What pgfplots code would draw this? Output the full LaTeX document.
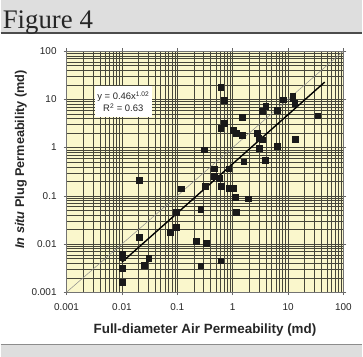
\documentclass[border=0pt]{standalone}
\usepackage{pgfplots}
\pgfplotsset{compat=1.18}
\usepackage{fontspec}
\setmainfont{Liberation Sans}
\newfontfamily\seriffont{Liberation Serif}
\definecolor{bgyellow}{RGB}{250,247,204}
\definecolor{gridc}{RGB}{70,70,58}
\definecolor{bandgray}{RGB}{222,222,222}
\begin{document}
\begin{tikzpicture}[x=1bp,y=1bp]
% page frame
\path[fill=white] (0,0) rectangle (363,358);
\fill[bandgray] (0,325) rectangle (363,358);
\draw[black!70,line width=1.3bp] (0,325) -- (363,325);
\node[anchor=base west,inner sep=0pt,font=\seriffont\fontsize{27}{30}\selectfont,text=black!85] at (2,329) {Figure 4};
\fill[bandgray] (0,0) rectangle (363,12);
\draw[black!45,line width=1bp] (0,12) -- (363,12);
\begin{axis}[
  at={(66.1bp,64.7bp)}, anchor=south west,
  width=277.9bp, height=242bp, scale only axis,
  xmode=log, ymode=log,
  xmin=0.001, xmax=100, ymin=0.001, ymax=100,
  xtick={0.001,0.01,0.1,1,10,100},
  xticklabels={0.001,0.01,0.1,1,10,100},
  ytick={0.001,0.01,0.1,1,10,100},
  yticklabels={0.001,0.01,0.1,1,10,100},
  /pgf/number format/assume math mode=true,
  tick label style={font=\fontsize{10}{12}\selectfont, text=black!85},
  xticklabel style={yshift=-4.5bp},
  yticklabel style={xshift=-3.5bp},
  tick align=outside, major tick length=3bp, minor tick length=0bp,
  tick style={black!60, line width=0.5bp},
  grid=both,
  major grid style={gridc, line width=0.5bp},
  minor grid style={gridc, line width=0.45bp},
  axis line style={black!55, line width=0.6bp},
  axis background/.style={fill=bgyellow},
  xlabel={\textbf{Full-diameter Air Permeability (md)}},
  ylabel={\textbf{\textit{In situ} Plug Permeability (md)}},
  label style={text=black!85},
  xlabel style={font=\fontsize{13.5}{15}\selectfont, at={(axis description cs:0.5,-0.155)}, anchor=center},
  ylabel style={font=\fontsize{12.8}{15}\selectfont, at={(axis description cs:-0.165,0.551)}, anchor=center},
  clip=false,
]
% 1:1 line
\addplot[black!45, line width=0.5bp] coordinates {(0.001,0.001) (100,100)};
% power-law fit y = 0.46 x^1.02 (endpoints)
\addplot[black, line width=1.4bp] coordinates {(0.01,0.0042) (46,22.8)};
% data
\addplot[only marks, mark=square*, mark size=2.9bp, mark options={fill=black!90, draw=black!90}] coordinates {
(0.01,0.0062) (0.01,0.0052) (0.01,0.0031) (0.01,0.0016)
(0.0205,0.0139) (0.0205,0.212) (0.0252,0.00367) (0.0306,0.00512)
(0.0748,0.0174) (0.096,0.022) (0.096,0.045) (0.118,0.141)
(0.223,0.0116) (0.264,0.0526) (0.264,0.00355) (0.311,0.90)
(0.315,0.159) (0.338,0.0103) (0.462,0.365) (0.457,0.256)
(0.574,0.236) (0.611,17.7) (0.611,2.48) (0.629,0.159)
(0.611,0.0045) (0.713,9.53) (0.713,3.15) (0.851,0.365)
(0.861,0.143) (1.02,0.143) (1.02,2.25) (1.17,2.02)
(1.12,0.0919) (1.17,0.045) (1.50,4.33) (1.50,1.80)
(1.58,0.509) (1.92,0.0875) (2.79,1.95) (2.95,1.59)
(3.43,1.45) (3.03,0.957) (3.47,5.75) (3.94,7.31)
(3.89,0.550) (6.47,5.85) (6.47,1.05) (8.21,9.86)
(12.1,11.5) (12.1,10.3) (13.2,8.43) (13.5,1.49)
(34.4,4.60)
};
\node[fill=white, inner sep=2.5bp, align=center, font=\fontsize{9.5}{12}\selectfont, text=black!85, minimum width=54bp, minimum height=31bp] at (rel axis cs:0.205,0.79) {y = 0.46x\textsuperscript{1.02}\\R\textsuperscript{2} = 0.63};
\end{axis}
\end{tikzpicture}
\end{document}
